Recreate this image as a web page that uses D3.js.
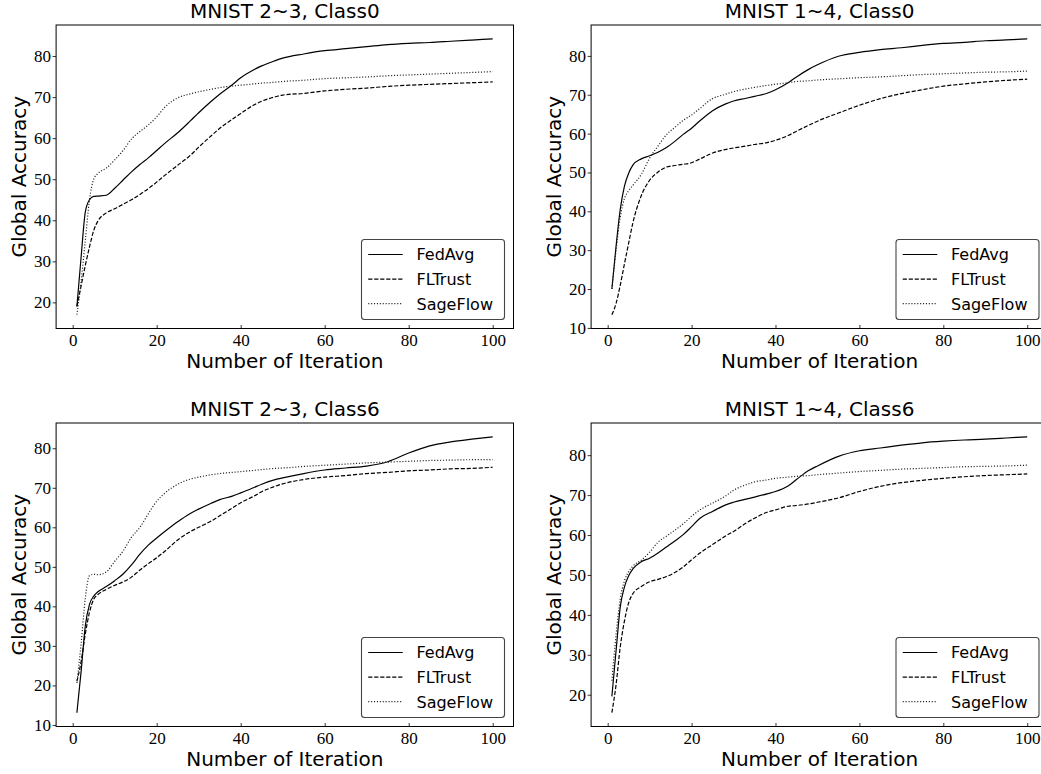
<!DOCTYPE html>
<html>
<head>
<meta charset="utf-8">
<script src="https://cdn.jsdelivr.net/npm/d3@7"></script>
<style>
  html, body { margin: 0; padding: 0; background: #fff; }
  svg { display: block; }
</style>
</head>
<body>
<svg id="chart" width="1041" height="774"></svg>
<script>
// Iterations at which accuracy was sampled
const iterations = [1,2,3,4,5,6,8,10,12,14,16,18,20,22,25,28,30,33,35,38,40,43,45,48,50,55,60,65,70,75,80,85,90,95,100];

const methods = ["FedAvg", "FLTrust", "SageFlow"];
const xTicks = [0, 20, 40, 60, 80, 100];

// MNIST 2~3, Class0
const p1FedAvg   = [19,31,42,45,45.8,45.9,46.1,47.8,49.8,51.8,53.6,55.2,57,58.8,61.3,64.2,66.2,69,70.7,73,74.7,76.6,77.6,78.8,79.5,80.5,81.3,81.8,82.3,82.8,83.1,83.3,83.6,83.9,84.2];
const p1FLTrust  = [19,24,29,33.5,37.5,39.8,41.8,42.8,43.9,45,46.3,47.7,49.3,51,53.4,55.8,57.8,60.6,62.4,64.6,66,68,69,70,70.5,70.9,71.5,71.9,72.2,72.6,72.9,73.1,73.3,73.5,73.7];
const p1SageFlow = [17,25,35,45,50,51.4,52.7,54.7,57,59.8,61.6,63.2,65.2,67.6,69.8,70.8,71.3,71.9,72.3,72.7,72.9,73.2,73.4,73.6,73.8,74.1,74.5,74.7,74.9,75.2,75.4,75.6,75.8,76,76.2];

// MNIST 1~4, Class0
const p2FedAvg   = [20,31,40.5,46.5,49.8,51.9,53.5,54.3,55.2,56.4,58,59.8,61.4,63.3,65.9,67.6,68.4,69.1,69.6,70.4,71.3,73.1,74.6,76.6,77.7,79.9,80.9,81.6,82.1,82.7,83.2,83.5,83.9,84.1,84.4];
const p2FLTrust  = [13.4,16.3,21,26.5,31.8,37,44,48,50.1,51.4,51.8,52.1,52.5,53.5,55,55.9,56.3,56.8,57.2,57.7,58.3,59.5,60.6,62.2,63.2,65.3,67.3,69,70.3,71.3,72.2,72.8,73.3,73.7,74];
const p2SageFlow = [20,30,38.5,43.3,45.3,46.7,49.5,53.7,56.8,59.7,61.6,63.4,64.8,66.5,69,70.1,70.8,71.5,71.9,72.4,72.7,73.1,73.4,73.6,73.8,74.1,74.4,74.6,74.9,75.2,75.4,75.6,75.8,75.9,76.1];

// MNIST 2~3, Class6
const p3FedAvg   = [13.1,23.5,35,40.5,42.6,43.7,45,46.5,48.2,50.5,53.2,55.5,57.3,59,61.4,63.5,64.6,66.1,67,67.9,68.7,70,70.9,72,72.5,73.6,74.5,75,75.5,76.6,78.8,80.6,81.6,82.3,82.9];
const p3FLTrust  = [21,26,33,38.5,41.8,43,44.3,45.3,46.2,47.4,49.2,50.8,52.3,54,56.8,58.9,60,61.6,62.9,64.9,66.2,67.8,69,70.3,71,72.1,72.7,73.1,73.6,73.9,74.3,74.5,74.8,74.9,75.2];
const p3SageFlow = [20.6,30.5,42,47.8,48.1,48,48.7,51.4,54,57.5,60,63.4,66.6,68.7,70.9,72.2,72.7,73.3,73.6,73.9,74.1,74.4,74.6,74.9,75,75.4,75.7,76,76.3,76.5,76.7,76.9,77,77.1,77.1];

// MNIST 1~4, Class6
const p4FedAvg   = [19.6,31,42,47,49.8,51.5,53.3,54.2,55.5,57,58.5,60.1,62.1,64.2,65.9,67.5,68.2,69,69.5,70.3,70.9,72.3,73.9,76.2,77.3,79.7,81.1,81.8,82.5,83.1,83.5,83.8,84,84.3,84.6];
const p4FLTrust  = [15.5,22.5,32,38.5,43,45.3,47.1,48.3,48.9,49.6,50.6,52,53.8,55.5,57.6,59.7,60.9,63,64.2,65.7,66.3,67.2,67.4,67.8,68.2,69.3,70.9,72.2,73.1,73.7,74.2,74.6,74.9,75.1,75.3];
const p4SageFlow = [23.5,35,44,48.5,50.8,52.2,53.7,55.7,58.2,59.7,61.2,62.8,64.7,66.3,68,69.7,71.2,72.6,73.3,73.8,74.2,74.5,74.7,74.9,75.1,75.5,75.9,76.2,76.5,76.7,76.9,77.1,77.2,77.3,77.5];

const panels = [
  { title: "MNIST 2~3, Class0", series: [p1FedAvg, p1FLTrust, p1SageFlow], col: 0, row: 0 },
  { title: "MNIST 1~4, Class0", series: [p2FedAvg, p2FLTrust, p2SageFlow], col: 1, row: 0 },
  { title: "MNIST 2~3, Class6", series: [p3FedAvg, p3FLTrust, p3SageFlow], col: 0, row: 1 },
  { title: "MNIST 1~4, Class6", series: [p4FedAvg, p4FLTrust, p4SageFlow], col: 1, row: 1 }
];

// Axes boxes for the 2x2 grid
const cols = [{ x0: 56.1, x1: 513.5 }, { x0: 591.1, x1: 1048 }];
const rows = [{ y0: 25, y1: 328.5 }, { y0: 423, y1: 726.5 }];

// Line styles per method
const styles = {
  FedAvg:   { dash: null,      color: "#000" },
  FLTrust:  { dash: "4.2,1.8", color: "#000" },
  SageFlow: { dash: "1.1,1.8", color: "#222" }
};

const SANS = '"DejaVu Sans", Verdana, sans-serif';
const SERIF = '"Liberation Serif", "Times New Roman", serif';

const svg = d3.select("#chart");

function styleTickText(sel) {
  sel.style("font-family", SERIF).style("font-size", "17px").style("fill", "#000");
}

function label(g, size) {
  return g.append("text").style("font-family", SANS).style("font-size", size + "px").style("fill", "#000");
}

panels.forEach((p, pi) => {
  const { x0, x1 } = cols[p.col];
  const { y0, y1 } = rows[p.row];

  // 5% padding on each side of the data range
  const xMin = d3.min(iterations), xMax = d3.max(iterations);
  const xPad = (xMax - xMin) * 0.05;
  const allY = p.series.flat();
  const yMin = d3.min(allY), yMax = d3.max(allY);
  const yPad = (yMax - yMin) * 0.05;

  const x = d3.scaleLinear().domain([xMin - xPad, xMax + xPad]).range([x0, x1]);
  const y = d3.scaleLinear().domain([yMin - yPad, yMax + yPad]).range([y1, y0]);

  const g = svg.append("g");

  // Clip region for the curves
  const clipId = "clip" + pi;
  g.append("clipPath").attr("id", clipId)
    .append("rect").attr("x", x0).attr("y", y0).attr("width", x1 - x0).attr("height", y1 - y0);

  // Curves
  const line = d3.line()
    .x((d, i) => x(iterations[i]))
    .y(d => y(d))
    .curve(d3.curveMonotoneX);

  const curves = g.append("g").attr("clip-path", `url(#${clipId})`);
  p.series.forEach((vals, si) => {
    const st = styles[methods[si]];
    curves.append("path")
      .datum(vals)
      .attr("d", line)
      .attr("fill", "none")
      .attr("stroke", st.color)
      .attr("stroke-width", 1.2)
      .attr("stroke-dasharray", st.dash);
  });

  // Y axis: ticks outward
  const yTicks = d3.range(Math.ceil((yMin - yPad) / 10) * 10, yMax + yPad, 10);
  const yAxis = g.append("g")
    .attr("transform", `translate(${x0},0)`)
    .call(d3.axisLeft(y).tickValues(yTicks).tickFormat(d3.format("d")).tickSize(3.5).tickPadding(1.5));
  yAxis.select(".domain").remove();
  yAxis.selectAll(".tick line").attr("stroke", "#000").attr("stroke-width", 0.8);
  styleTickText(yAxis.selectAll(".tick text"));

  // X axis: ticks pointing into the plot
  const xAxis = g.append("g")
    .attr("transform", `translate(0,${y1})`)
    .call(d3.axisBottom(x).tickValues(xTicks).tickFormat(d3.format("d")).tickSizeInner(-3.5).tickSizeOuter(0).tickPadding(4));
  xAxis.select(".domain").remove();
  xAxis.selectAll(".tick line").attr("stroke", "#000").attr("stroke-width", 0.8);
  styleTickText(xAxis.selectAll(".tick text").attr("dy", null).attr("y", 17.4));

  // Frame
  g.append("rect")
    .attr("x", x0).attr("y", y0)
    .attr("width", x1 - x0).attr("height", y1 - y0)
    .attr("fill", "none")
    .attr("stroke", "#000")
    .attr("stroke-width", 1);

  // Title
  label(g, 20)
    .attr("x", (x0 + x1) / 2)
    .attr("y", y0 - 7.5)
    .attr("text-anchor", "middle")
    .text(p.title);

  // Axis labels
  label(g, 20)
    .attr("x", (x0 + x1) / 2)
    .attr("y", y1 + 39)
    .attr("text-anchor", "middle")
    .text("Number of Iteration");

  label(g, 20)
    .attr("transform", `translate(${x0 - 30},${(y0 + y1) / 2}) rotate(-90)`)
    .attr("text-anchor", "middle")
    .text("Global Accuracy");

  // Legend, lower right
  const lw = 143, lh = 80;
  const lx = x1 - 9 - lw, ly = y1 - 9 - lh;
  const leg = g.append("g");
  leg.append("rect")
    .attr("x", lx).attr("y", ly)
    .attr("width", lw).attr("height", lh)
    .attr("rx", 3).attr("ry", 3)
    .attr("fill", "#fff")
    .attr("stroke", "#444")
    .attr("stroke-width", 1.1);
  methods.forEach((m, i) => {
    const cy = ly + 15 + i * 24.6;
    const st = styles[m];
    leg.append("line")
      .attr("x1", lx + 6.7).attr("x2", lx + 41.3)
      .attr("y1", cy).attr("y2", cy)
      .attr("stroke", st.color)
      .attr("stroke-width", 1.2)
      .attr("stroke-dasharray", st.dash);
    label(leg, 16)
      .attr("x", lx + 55)
      .attr("y", cy + 5.8)
      .text(m);
  });
});
</script>
</body>
</html>
